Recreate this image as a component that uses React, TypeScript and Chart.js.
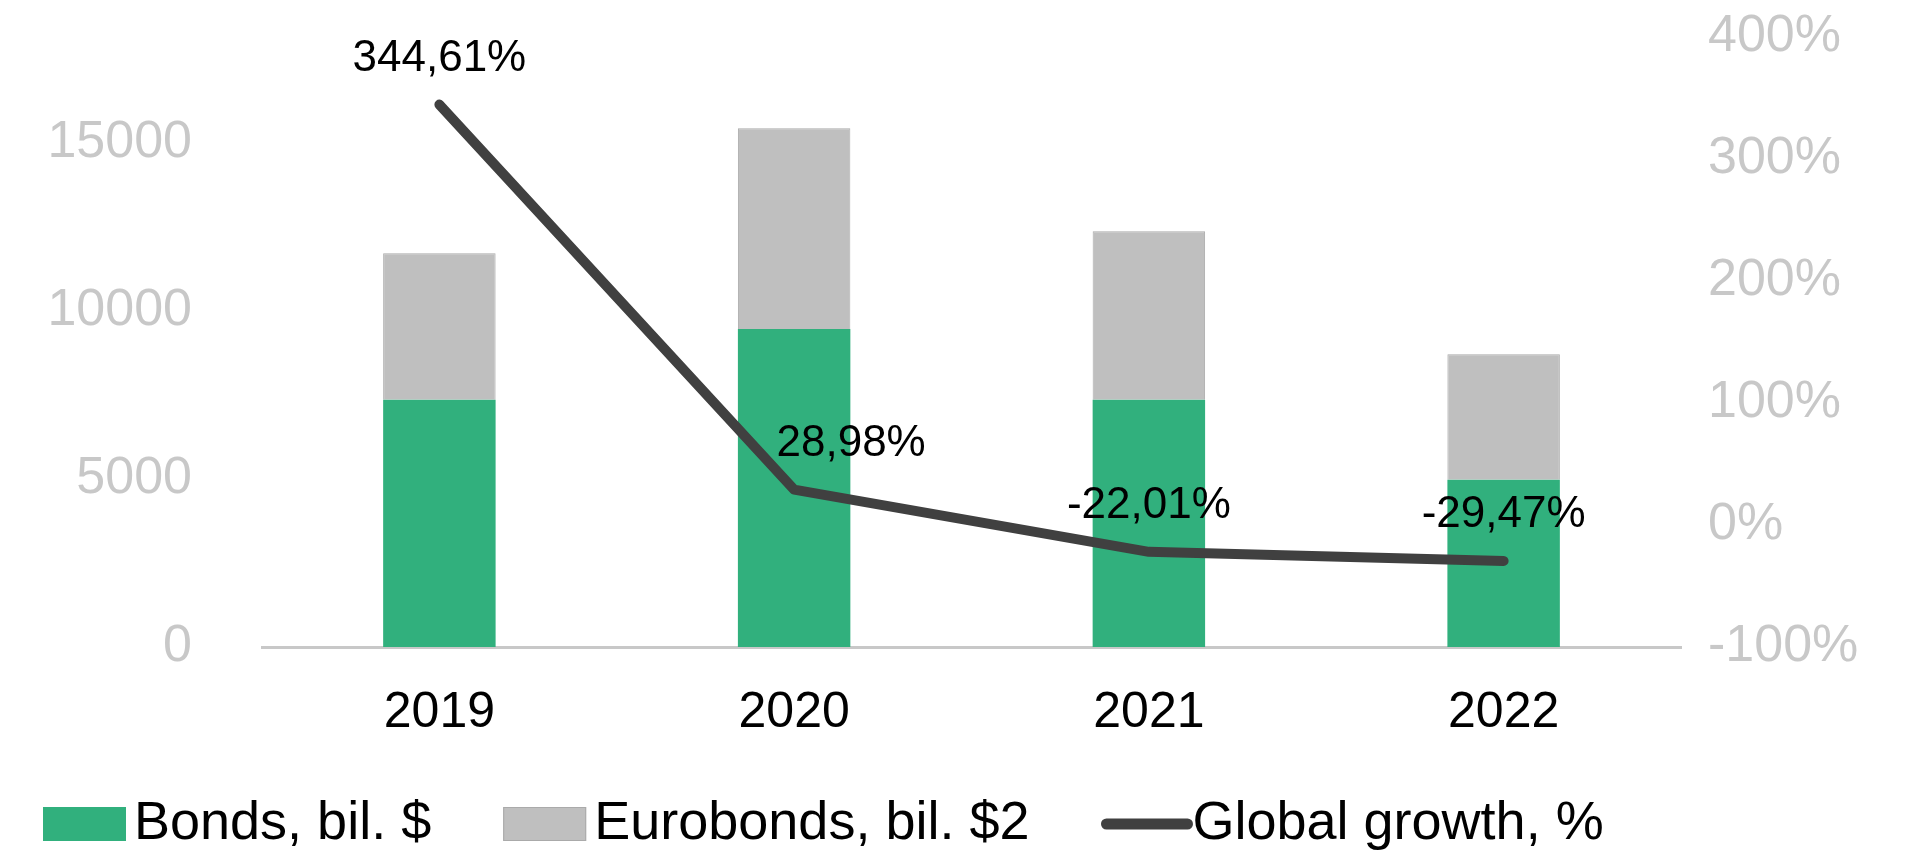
import React, { useEffect, useRef } from "react";
import { Chart, registerables } from "chart.js";

Chart.register(...registerables);

const categories = ["2019", "2020", "2021", "2022"];
const bonds = [7350, 9460, 7350, 4970];
const eurobonds = [4360, 5965, 5015, 3735];
const growth = [344.61, 28.98, -22.01, -29.47];
const leftTicks = [0, 5000, 10000, 15000];
const rightTicks = [-100, 0, 100, 200, 300, 400];
const seriesNames = ["Bonds, bil. $", "Eurobonds, bil. $2", "Global growth, %"];

const GREEN = "#31B07D";
const GRAY = "#BFBFBF";
const LINE = "#404040";
const TICK_GRAY = "#C8C8C8";
const FONT = "'Liberation Sans', Arial, Helvetica, sans-serif";

const fmtPct = (v: number) => v.toFixed(2).replace(".", ",") + "%";

const dataLabelPlugin = {
  id: "lineLabels",
  afterDatasetsDraw(chart: any) {
    const idx = chart.data.datasets.findIndex((d: any) => d.type === "line");
    if (idx < 0) return;
    const meta = chart.getDatasetMeta(idx);
    const ds = chart.data.datasets[idx];
    const offsets = [0, 57, 0, 0];
    const ctx = chart.ctx;
    ctx.save();
    ctx.font = `44px ${FONT}`;
    ctx.fillStyle = "#000";
    ctx.textAlign = "center";
    ctx.textBaseline = "middle";
    meta.data.forEach((pt: any, i: number) => {
      ctx.fillText(fmtPct(ds.data[i]), pt.x + offsets[i], pt.y - 46);
    });
    ctx.restore();
  },
};

const legendPlugin = {
  id: "customLegend",
  afterDraw(chart: any) {
    const ctx = chart.ctx;
    const datasets = chart.data.datasets;
    const order = [1, 2, 0];
    ctx.save();
    ctx.font = `54px ${FONT}`;
    ctx.textBaseline = "middle";
    ctx.textAlign = "left";
    let x = 43;
    const cy = 824;
    const boxW = 83;
    const boxH = 34;
    order.forEach((di) => {
      const ds = datasets[di];
      if (ds.type === "line") {
        ctx.strokeStyle = ds.borderColor;
        ctx.lineWidth = 11;
        ctx.lineCap = "round";
        ctx.beginPath();
        ctx.moveTo(x + 5, cy);
        ctx.lineTo(x + boxW + 3, cy);
        ctx.stroke();
      } else {
        ctx.fillStyle = ds.backgroundColor;
        ctx.fillRect(x, cy - boxH / 2, boxW, boxH);
        ctx.strokeStyle = ds.borderColor;
        ctx.lineWidth = 1;
        ctx.strokeRect(x + 0.5, cy - boxH / 2 + 0.5, boxW - 1, boxH - 1);
      }
      const tx = x + boxW + 8;
      ctx.fillStyle = "#000";
      ctx.fillText(ds.label, tx, cy);
      const w = ctx.measureText(ds.label).width;
      x = tx + w + 72;
    });
    ctx.restore();
  },
};

const zeroPad = (s: any) => {
  s.paddingTop = 0;
  s.paddingBottom = 0;
};

export default function App() {
  const canvasRef = useRef<HTMLCanvasElement | null>(null);

  useEffect(() => {
    if (!canvasRef.current) return;
    const chart = new Chart(canvasRef.current, {
      type: "bar",
      data: {
        labels: categories,
        datasets: [
          {
            type: "line",
            label: seriesNames[2],
            data: growth,
            yAxisID: "yR",
            borderColor: LINE,
            backgroundColor: LINE,
            borderWidth: 10,
            borderCapStyle: "round",
            borderJoinStyle: "round",
            pointRadius: 0,
            tension: 0,
            order: 0,
          } as any,
          {
            type: "bar",
            label: seriesNames[0],
            data: bonds,
            yAxisID: "y",
            backgroundColor: GREEN,
            borderColor: GREEN,
            borderWidth: 0,
            barPercentage: 0.317,
            categoryPercentage: 1,
            order: 1,
          } as any,
          {
            type: "bar",
            label: seriesNames[1],
            data: eurobonds,
            yAxisID: "y",
            backgroundColor: GRAY,
            borderColor: "#AAAAAA",
            borderWidth: 1,
            barPercentage: 0.317,
            categoryPercentage: 1,
            order: 1,
          } as any,
        ],
      },
      options: {
        animation: false,
        responsive: true,
        maintainAspectRatio: false,
        layout: { padding: { top: 37, left: 0, right: 0, bottom: 0 } },
        plugins: {
          legend: { display: false },
          tooltip: { enabled: false },
        },
        scales: {
          x: {
            stacked: true,
            grid: { display: false, drawTicks: false },
            border: { display: true, color: "#C8C8C8", width: 3 },
            ticks: {
              color: "#000",
              font: { family: FONT, size: 50 },
              padding: 36,
              maxRotation: 0,
            },
            afterFit: (s: any) => {
              s.height = 209;
              s.paddingLeft = 0;
              s.paddingRight = 0;
            },
          },
          y: {
            position: "left",
            stacked: true,
            min: 0,
            max: 18140,
            grid: { display: false, drawTicks: false },
            border: { display: false },
            ticks: {
              color: TICK_GRAY,
              font: { family: FONT, size: 52 },
              padding: 70,
              callback: (v: any) => String(v),
            },
            afterBuildTicks: (s: any) => {
              s.ticks = leftTicks.map((v) => ({ value: v }));
            },
            afterFit: (s: any) => {
              s.width = 262;
              zeroPad(s);
            },
          },
          yR: {
            position: "right",
            min: -100,
            max: 400,
            grid: { display: false, drawTicks: false },
            border: { display: false },
            ticks: {
              color: TICK_GRAY,
              font: { family: FONT, size: 52 },
              padding: 27,
              callback: (v: any) => v + "%",
            },
            afterBuildTicks: (s: any) => {
              s.ticks = rightTicks.map((v) => ({ value: v }));
            },
            afterFit: (s: any) => {
              s.width = 236;
              zeroPad(s);
            },
          },
        },
      } as any,
      plugins: [dataLabelPlugin, legendPlugin],
    });
    return () => chart.destroy();
  }, []);

  return (
    <div
      style={{
        position: "absolute",
        left: 0,
        top: 0,
        width: "1917px",
        height: "856px",
        background: "#fff",
      }}
    >
      <canvas ref={canvasRef} />
    </div>
  );
}
